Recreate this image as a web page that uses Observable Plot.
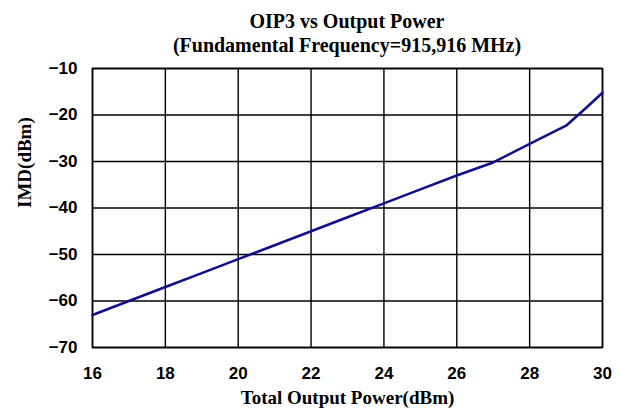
<!DOCTYPE html>
<html>
<head>
<meta charset="utf-8">
<script src="https://cdn.jsdelivr.net/npm/d3@7"></script>
<script src="https://cdn.jsdelivr.net/npm/@observablehq/plot@0.6"></script>
<style>
  html, body { margin: 0; padding: 0; background: #fff; }
  #wrap { position: relative; width: 621px; height: 409px; overflow: hidden; }
  #title {
    height: 55px; box-sizing: border-box; padding-top: 9px;
    margin-left: 92px; width: 510px; text-align: center;
    font-family: "Liberation Serif", "Times New Roman", serif; font-weight: bold;
    font-size: 20px; line-height: 24px; color: #000; white-space: nowrap;
  }
  svg { display: block; }
</style>
</head>
<body>
<div id="wrap">
  <div id="title"><div>OIP3 vs Output Power</div><div>(Fundamental Frequency=915,916 MHz)</div></div>
  <div id="chart"></div>
</div>
<script>
const power = [16, 17, 18, 19, 20, 21, 22, 23, 24, 25, 26, 27, 28, 29, 29.5, 30];
const imd   = [-63, -60, -57, -54, -51, -48, -45, -42, -39, -36, -33, -30.2, -26.2, -22.3, -18.8, -15.2];
const xTicks = [16, 18, 20, 22, 24, 26, 28, 30];
const yTicks = [-70, -60, -50, -40, -30, -20, -10];

const data = power.map((p, i) => ({power: p, imd: imd[i]}));

const chart = Plot.plot({
  width: 621,
  height: 354,
  marginLeft: 92,
  marginRight: 19,
  marginTop: 13,
  marginBottom: 62,
  style: {fontFamily: "'Liberation Sans', Arial, sans-serif", fontSize: "17px", fontWeight: "bold", color: "#000", background: "#fff"},
  x: {domain: [16, 30]},
  y: {domain: [-70, -10]},
  marks: [
    Plot.gridX(xTicks, {stroke: "#000", strokeOpacity: 1, strokeWidth: 1.4}),
    Plot.gridY(yTicks, {stroke: "#000", strokeOpacity: 1, strokeWidth: 1.4}),
    Plot.frame({stroke: "#000", strokeWidth: 1.6}),
    Plot.axisX(xTicks, {tickSize: 0, tickPadding: 19, label: null}),
    Plot.axisY(yTicks, {tickSize: 0, tickPadding: 15, label: null}),
    Plot.text(["Total Output Power(dBm)"], {frameAnchor: "bottom", dy: 56, fontFamily: "'Liberation Serif', 'Times New Roman', serif", fontSize: 19, fontWeight: "bold", fill: "#000"}),
    Plot.text(["IMD(dBm)"], {frameAnchor: "left", dx: -68, rotate: -90, fontFamily: "'Liberation Serif', 'Times New Roman', serif", fontSize: 19, fontWeight: "bold", fill: "#000"}),
    Plot.line(data, {x: "power", y: "imd", stroke: "#10108a", strokeWidth: 2.6})
  ]
});
document.getElementById("chart").appendChild(chart);
</script>
</body>
</html>
